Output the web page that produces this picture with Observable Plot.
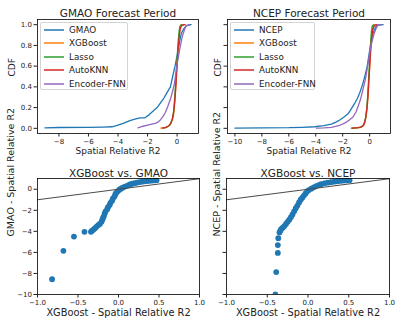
<!DOCTYPE html>
<html><head><meta charset="utf-8">
<script src="https://cdn.jsdelivr.net/npm/d3@7"></script>
<script src="https://cdn.jsdelivr.net/npm/@observablehq/plot@0.6"></script>
<style>
body{margin:0;background:#fff;font-family:"DejaVu Sans",sans-serif;}
#chart{position:relative;width:399px;height:324px;overflow:hidden;background:#fff;}
.panel{position:absolute;}
.legend{position:absolute;border:1px solid #d4d4d4;border-radius:2px;background:rgba(255,255,255,0.85);font-size:8.8px;color:#222;box-sizing:border-box;}
.legend .row{position:absolute;left:0;height:11px;display:flex;align-items:center;white-space:nowrap;}
.legend svg{display:block;margin-left:3px;margin-right:5px;}
</style></head>
<body><div id="chart"></div>
<script>
// ---------- data ----------
const seriesTL = ["GMAO", "XGBoost", "Lasso", "AutoKNN", "Encoder-FNN"];
const seriesTR = ["NCEP", "XGBoost", "Lasso", "AutoKNN", "Encoder-FNN"];
const seriesColors = ["#1f77b4", "#ff7f0e", "#2ca02c", "#d62728", "#9467bd"];

// GMAO forecast period CDFs (x = spatial relative R2, p = CDF)
const gmaoX = [-8.95,-8.0,-6.0,-5.0,-4.4,-4.0,-3.6,-3.2,-2.8,-2.5,-2.2,-1.9,-1.6,-1.35,-1.1,-0.9,-0.7,-0.45,-0.3,-0.14,0.0,0.1,0.2,0.3,0.45,0.6,0.8,0.95];
const gmaoP = [0.005,0.008,0.01,0.012,0.015,0.03,0.05,0.075,0.09,0.10,0.10,0.13,0.17,0.2,0.25,0.29,0.34,0.40,0.5,0.6,0.7,0.78,0.86,0.92,0.96,0.985,0.997,1.0];
const xgbGX = [-1.1,-0.8,-0.6,-0.45,-0.35,-0.25,-0.18,-0.11,-0.05,0.0,0.05,0.1,0.15,0.2,0.3,0.45];
const xgbGP = [0.002,0.01,0.02,0.04,0.07,0.12,0.2,0.34,0.48,0.6,0.72,0.83,0.91,0.97,0.995,1.0];
const lassoGX = [-0.9,-0.7,-0.5,-0.4,-0.3,-0.22,-0.15,-0.08,-0.02,0.03,0.08,0.13,0.18,0.25,0.35];
const lassoGP = [0.002,0.01,0.03,0.06,0.1,0.18,0.32,0.48,0.62,0.74,0.85,0.93,0.98,0.997,1.0];
const knnGX = [-1.0,-0.75,-0.55,-0.42,-0.32,-0.24,-0.16,-0.09,-0.03,0.02,0.08,0.14,0.2,0.28,0.4,0.55];
const knnGP = [0.002,0.01,0.025,0.05,0.09,0.15,0.26,0.4,0.54,0.66,0.78,0.88,0.95,0.985,0.997,1.0];
const fnnGX = [-2.65,-2.3,-2.0,-1.7,-1.42,-1.2,-0.97,-0.8,-0.63,-0.41,-0.18,-0.03,0.16,0.34,0.5,0.61,0.8];
const fnnGP = [0.005,0.02,0.03,0.04,0.05,0.07,0.11,0.15,0.21,0.30,0.43,0.59,0.75,0.88,0.95,0.99,1.0];

// NCEP forecast period CDFs
const ncepX = [-10.0,-8.0,-6.0,-5.0,-4.07,-3.4,-2.84,-2.5,-2.22,-1.9,-1.6,-1.35,-1.11,-0.9,-0.74,-0.58,-0.42,-0.19,0.0,0.17,0.35,0.5,0.7,1.0];
const ncepP = [0.002,0.004,0.006,0.01,0.015,0.025,0.04,0.06,0.08,0.11,0.14,0.19,0.24,0.29,0.34,0.4,0.47,0.59,0.75,0.88,0.95,0.99,0.997,1.0];
const xgbNX = [-1.25,-0.9,-0.61,-0.45,-0.37,-0.28,-0.19,-0.12,-0.07,-0.01,0.05,0.1,0.17,0.25,0.38];
const xgbNP = [0.002,0.005,0.01,0.03,0.05,0.1,0.18,0.3,0.43,0.56,0.69,0.8,0.94,0.98,1.0];
const lassoNX = [-1.36,-1.0,-0.7,-0.5,-0.4,-0.3,-0.22,-0.15,-0.09,-0.03,0.03,0.08,0.13,0.2,0.3];
const lassoNP = [0.002,0.005,0.01,0.025,0.05,0.1,0.18,0.3,0.44,0.58,0.72,0.84,0.93,0.99,1.0];
const knnNX = [-1.3,-0.9,-0.6,-0.45,-0.36,-0.27,-0.18,-0.1,-0.04,0.02,0.08,0.15,0.22,0.3,0.42,0.55];
const knnNP = [0.002,0.006,0.015,0.03,0.06,0.12,0.22,0.36,0.5,0.63,0.76,0.87,0.94,0.98,0.997,1.0];
const fnnNX = [-3.95,-3.4,-2.84,-2.3,-1.85,-1.5,-1.23,-1.0,-0.86,-0.7,-0.56,-0.32,-0.12,0.07,0.32,0.5,0.62,0.9];
const fnnNP = [0.002,0.005,0.01,0.025,0.05,0.08,0.11,0.16,0.21,0.27,0.34,0.47,0.62,0.78,0.91,0.97,0.995,1.0];

// Scatter: XGBoost (x) vs GMAO (y)
const xgbVsGmaoX = [-0.82,-0.68,-0.55,-0.42,-0.34,-0.33,-0.31,-0.29,-0.27,-0.25,-0.23,-0.21,-0.2,-0.19,-0.18,-0.17,-0.16,-0.14,-0.13,-0.11,-0.1,-0.08,-0.07,-0.05,-0.04,-0.03,-0.01,0.01,0.03,0.05,0.08,0.11,0.14,0.17,0.2,0.23,0.26,0.29,0.32,0.35,0.38,0.41,0.44,0.47];
const xgbVsGmaoY = [-8.55,-5.85,-4.5,-4.05,-4.05,-3.95,-3.85,-3.7,-3.55,-3.4,-3.3,-3.1,-2.9,-2.7,-2.55,-2.3,-2.1,-1.9,-1.7,-1.5,-1.3,-1.1,-0.9,-0.7,-0.5,-0.35,-0.2,-0.05,0.05,0.15,0.25,0.35,0.45,0.52,0.58,0.63,0.68,0.72,0.75,0.78,0.8,0.82,0.84,0.86];
// Scatter: XGBoost (x) vs NCEP (y)
const xgbVsNcepX = [-0.40,-0.39,-0.37,-0.37,-0.365,-0.35,-0.34,-0.33,-0.31,-0.29,-0.27,-0.25,-0.23,-0.21,-0.19,-0.17,-0.15,-0.13,-0.11,-0.09,-0.07,-0.05,-0.03,-0.01,0.01,0.04,0.07,0.1,0.13,0.16,0.2,0.24,0.28,0.32,0.36,0.4,0.44,0.48,0.51];
const xgbVsNcepY = [-10.0,-7.87,-6.05,-5.3,-4.65,-4.1,-3.95,-3.8,-3.65,-3.5,-3.3,-3.1,-2.9,-2.65,-2.4,-2.1,-1.8,-1.55,-1.25,-1.0,-0.8,-0.6,-0.4,-0.2,-0.08,0.05,0.18,0.3,0.4,0.48,0.56,0.62,0.67,0.72,0.76,0.79,0.82,0.84,0.86];
const refLineX = [-1, 1];

const cdfYTicks = [0, 0.2, 0.4, 0.6, 0.8, 1.0];
const gmaoXTicks = [-8, -6, -4, -2, 0];
const ncepXTicks = [-10, -8, -6, -4, -2, 0];
const scatXTicks = [-1.0, -0.5, 0.0, 0.5, 1.0];
const scatYTicks = [-10, -8, -6, -4, -2, 0];

// ---------- helpers ----------
const zip = (xs, ys) => xs.map((x, i) => ({x, y: ys[i]}));
const fInt = d3.format("d"), f1 = d3.format(".1f");
const chart = document.getElementById("chart");
const TXT = "#222";

function place(svg, left, top) {
  svg.classList.add("panel");
  svg.style.left = left + "px";
  svg.style.top = top + "px";
  chart.appendChild(svg);
}

function cdfPanel({left, top, width, height, m, xDomain, xTicks, curves, title, showYLabels, yLabelDx}) {
  const marks = [];
  curves.forEach((c, i) => marks.push(Plot.line(zip(c[0], c[1]), {x: "x", y: "y", stroke: seriesColors[i], strokeWidth: 1.3})));
  marks.push(
    Plot.frame({stroke: "#000", strokeWidth: 0.8}),
    Plot.axisX({ticks: xTicks, tickFormat: fInt, tickSize: 3.5, tickPadding: 2, label: null, fontSize: 7, color: TXT}),
    Plot.axisY({ticks: cdfYTicks, tickFormat: showYLabels ? f1 : () => "", tickSize: 3.5, tickPadding: 2, label: null, fontSize: 7, color: TXT}),
    Plot.text([title], {text: d => d, frameAnchor: "top", dy: -9.5, fontSize: 10.5, fill: TXT}),
    Plot.text(["Spatial Relative R2"], {text: d => d, frameAnchor: "bottom", dy: 20, fontSize: 9, fill: TXT}),
    Plot.text(["CDF"], {text: d => d, frameAnchor: "left", dx: yLabelDx, rotate: -90, fontSize: 9, fill: TXT})
  );
  const svg = Plot.plot({
    width, height, marginLeft: m[0], marginRight: m[1], marginTop: m[2], marginBottom: m[3],
    style: {overflow: "visible", fontFamily: "DejaVu Sans", background: "transparent", color: TXT},
    x: {domain: xDomain}, y: {domain: [-0.05, 1.05]},
    marks
  });
  place(svg, left, top);
}

function scatterPanel({left, top, width, height, m, xs, ys, title, yLabel, showYLabels, yLabelDx}) {
  const svg = Plot.plot({
    width, height, marginLeft: m[0], marginRight: m[1], marginTop: m[2], marginBottom: m[3],
    style: {overflow: "visible", fontFamily: "DejaVu Sans", background: "transparent", color: TXT},
    x: {domain: [-1, 1]}, y: {domain: [-10, 1.02]},
    marks: [
      Plot.dot(zip(xs, ys), {x: "x", y: "y", r: 2.9, fill: "#1f77b4", clip: true}),
      Plot.line(zip(refLineX, refLineX), {x: "x", y: "y", stroke: "#4a4a4a", strokeWidth: 1}),
      Plot.frame({stroke: "#000", strokeWidth: 0.8}),
      Plot.axisX({ticks: scatXTicks, tickFormat: f1, tickSize: 3.5, tickPadding: 2, label: null, fontSize: 7, color: TXT}),
      Plot.axisY({ticks: scatYTicks, tickFormat: showYLabels ? fInt : () => "", tickSize: 3.5, tickPadding: 2, label: null, fontSize: 7, color: TXT}),
      Plot.text([title], {text: d => d, frameAnchor: "top", dy: -8.5, fontSize: 10.5, fill: TXT}),
      Plot.text(["XGBoost - Spatial Relative R2"], {text: d => d, frameAnchor: "bottom", dy: 21, fontSize: 9.8, fill: TXT}),
      Plot.text([yLabel], {text: d => d, frameAnchor: "left", dx: yLabelDx, rotate: -90, fontSize: 9.5, fill: TXT})
    ]
  });
  place(svg, left, top);
}

function legend(names, left, top, width) {
  const div = document.createElement("div");
  div.className = "legend";
  div.style.left = left + "px"; div.style.top = top + "px";
  div.style.width = width + "px"; div.style.height = "68px";
  names.forEach((n, i) => {
    const row = document.createElement("div");
    row.className = "row";
    row.style.top = (1 + i * 13.5) + "px";
    const ns = "http://www.w3.org/2000/svg";
    const sw = document.createElementNS(ns, "svg");
    sw.setAttribute("width", "20"); sw.setAttribute("height", "4");
    const ln = document.createElementNS(ns, "line");
    ln.setAttribute("x1", "0"); ln.setAttribute("x2", "20");
    ln.setAttribute("y1", "2"); ln.setAttribute("y2", "2");
    ln.setAttribute("stroke", seriesColors[i]); ln.setAttribute("stroke-width", "1.5");
    sw.appendChild(ln);
    const t = document.createElement("span"); t.textContent = n;
    row.appendChild(sw); row.appendChild(t);
    div.appendChild(row);
  });
  chart.appendChild(div);
}

// ---------- panels ----------
cdfPanel({left: 0, top: 0, width: 200, height: 160, m: [37, 2, 19, 27], xDomain: [-9.45, 1.45], xTicks: gmaoXTicks,
  curves: [[gmaoX, gmaoP], [xgbGX, xgbGP], [lassoGX, lassoGP], [knnGX, knnGP], [fnnGX, fnnGP]],
  title: "GMAO Forecast Period", showYLabels: true, yLabelDx: -25});
cdfPanel({left: 200, top: 0, width: 199, height: 160, m: [27, 9, 19, 27], xDomain: [-10.55, 1.55], xTicks: ncepXTicks,
  curves: [[ncepX, ncepP], [xgbNX, xgbNP], [lassoNX, lassoNP], [knnNX, knnNP], [fnnNX, fnnNP]],
  title: "NCEP Forecast Period", showYLabels: false, yLabelDx: -9.5});
scatterPanel({left: 0, top: 160, width: 200, height: 164, m: [37, 1, 18, 30], xs: xgbVsGmaoX, ys: xgbVsGmaoY,
  title: "XGBoost vs. GMAO", yLabel: "GMAO - Spatial Relative R2", showYLabels: true, yLabelDx: -27});
scatterPanel({left: 200, top: 160, width: 199, height: 164, m: [26, 10, 18, 30], xs: xgbVsNcepX, ys: xgbVsNcepY,
  title: "XGBoost vs. NCEP", yLabel: "NCEP - Spatial Relative R2", showYLabels: false, yLabelDx: -9.5});

legend(seriesTL, 40, 22, 88);
legend(seriesTR, 230, 22, 85);
</script></body></html>
